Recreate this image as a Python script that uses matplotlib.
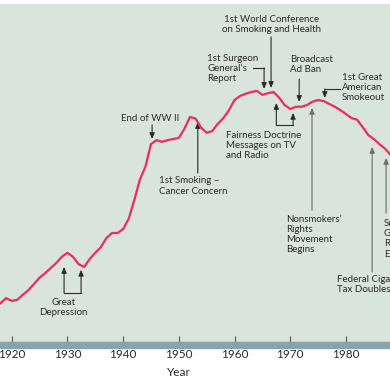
import matplotlib
matplotlib.use("Agg")
import matplotlib.pyplot as plt
from matplotlib.patches import Rectangle

# cigarette consumption per adult
years = list(range(1917, 1990))
consumption = [630, 680, 770, 720, 740, 830, 910, 1020, 1130, 1210,
               1300, 1390, 1500, 1570, 1500, 1370, 1320, 1460, 1570, 1670,
               1830, 1920, 1920, 1990, 2170, 2500, 2860, 3090, 3490, 3560,
               3530, 3560, 3580, 3600, 3760, 3970, 3940, 3780, 3690, 3720,
               3850, 3950, 4090, 4270, 4340, 4380, 4410, 4430, 4360, 4390,
               4410, 4310, 4180, 4110, 4150, 4150, 4180, 4240, 4270, 4250,
               4200, 4150, 4090, 4020, 3950, 3920, 3790, 3650, 3580, 3490,
               3410, 3300, 3180]
decades = [1920, 1930, 1940, 1950, 1960, 1970, 1980]

BG = "#d8e4dc"
BAND = "#87a4ab"
LINE = "#ee2a5e"
DARK = "#2a2a2a"
GREY = "#6e6e6e"
TXT = "#2a2a2a"

plt.rcParams["font.family"] = ["Lato", "DejaVu Sans"]

fig = plt.figure(figsize=(3.9, 3.86), dpi=100)
ax = fig.add_axes([0, 1 - 341.7 / 386, 1, 337.7 / 386])
ax.set_facecolor(BG)
fig.patches.append(Rectangle((0, 1 - 348.3 / 386), 1, 6.6 / 386,
                             transform=fig.transFigure, color=BAND, zorder=0))

ax.plot(years, consumption, color=LINE, lw=1.6, solid_joinstyle="round",
        solid_capstyle="round", zorder=5)

ax.set_xlim(1917.9, 1987.9)
ax.set_ylim(0, 5965)
ax.set_xticks(decades)
ax.set_yticks([])
for s in ["top", "left", "right"]:
    ax.spines[s].set_visible(False)
ax.spines["bottom"].set_color("#4f666c")
ax.spines["bottom"].set_linewidth(0.8)
ax.tick_params(axis="x", direction="in", length=4.3, width=0.8,
               color="#555555", pad=5, labelsize=8.5, labelcolor=TXT)
ax.annotate("Year", xy=(1950, 0), xycoords=("data", "axes fraction"),
            xytext=(0, -22.5), textcoords="offset points",
            ha="center", va="center", fontsize=8.5, color=TXT,
            annotation_clip=False)


def arrow(x, y0, y1, color=DARK):
    ax.annotate("", xy=(x, y1), xytext=(x, y0),
                arrowprops=dict(arrowstyle="-|>,head_length=0.35,head_width=0.15",
                                lw=0.8, color=color, shrinkA=0, shrinkB=0),
                zorder=4)


def label(x, y, s, ha="left"):
    ax.text(x, y, s, ha=ha, va="center", fontsize=7, color=TXT,
            linespacing=1.15, zorder=6)


# Great Depression
label(1929.3, 610, "Great\nDepression", ha="center")
ax.plot([1929.4, 1932.45], [860, 860], color=DARK, lw=0.8)
arrow(1929.4, 860, 1320)
arrow(1932.45, 860, 1270)

# End of WW II
label(1944.8, 3950, "End of WW II", ha="center")
arrow(1945.2, 3830, 3580)

# 1st Smoking - Cancer Concern
label(1946.4, 2750, "1st Smoking \u2013\nCancer Concern")
arrow(1953.4, 2980, 3880)

# 1st Surgeon General's Report
label(1955.1, 4830, "1st Surgeon\nGeneral\u2019s\nReport")
ax.plot([1963.3, 1965.3], [4836, 4836], color=DARK, lw=0.8)
arrow(1965.3, 4836, 4465)

# 1st World Conference
label(1966.7, 5595, "1st World Conference\non Smoking and Health", ha="center")
arrow(1966.55, 5383, 4482)

# Fairness Doctrine
label(1958.5, 3460, "Fairness Doctrine\nMessages on TV\nand Radio")
ax.plot([1967.5, 1970.5], [3829, 3829], color=DARK, lw=0.8)
arrow(1967.5, 3829, 4217)
arrow(1970.5, 3829, 4041)

# Broadcast Ad Ban
label(1970.0, 4890, "Broadcast\nAd Ban")
arrow(1971.6, 4640, 4235)

# 1st Great American Smokeout
label(1979.3, 4490, "1st Great\nAmerican\nSmokeout")
ax.plot([1976.2, 1978.9], [4465, 4465], color=DARK, lw=0.8)
arrow(1976.2, 4465, 4305)

# Nonsmokers' Rights Movement Begins
label(1969.2, 1895, "Nonsmokers\u2019\nRights\nMovement\nBegins")
arrow(1973.9, 2323, 4129, GREY)

# Federal Cigarette Tax Doubles
label(1978.4, 1010, "Federal Cigarette\nTax Doubles")
arrow(1984.7, 1231, 3440, GREY)

# Surgeon General's Report (cut off at the right edge)
label(1986.8, 1815, "Surgeon\nGeneral\u2019s\nReport\nEmphasizes")
arrow(1987.2, 2270, 3246, GREY)

fig.savefig("out.png", dpi=100)
